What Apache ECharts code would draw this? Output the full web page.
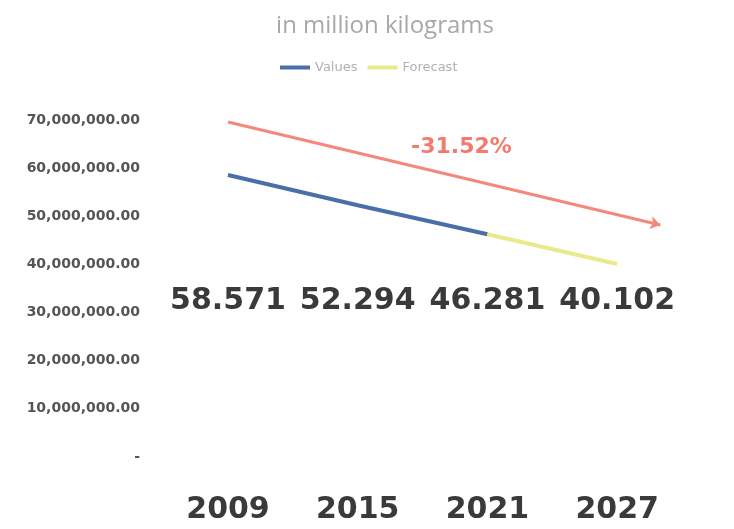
<!DOCTYPE html>
<html><head><meta charset="utf-8">
<script src="https://cdn.jsdelivr.net/npm/echarts@6/dist/echarts.min.js"></script>
<style>html,body{margin:0;padding:0;background:#fff}#c{width:734px;height:529px}</style>
</head><body><div id="c"></div>
<script>
var years = [2009, 2015, 2021, 2027];
var values = [58571000, 52294000, 46281000, null];
var forecast = [null, null, 46281000, 40102000];
var trendStart = [2009, 69600000];
var trendEnd = [2029, 48200000];
var trendLabel = '-31.52%';
var trendLabelAt = [2019.8, 64300000];

function pairs(arr) {
  var out = [];
  for (var i = 0; i < years.length; i++) if (arr[i] != null) out.push([years[i], arr[i]]);
  return out;
}
var labelValues = years.map(function (y, i) {
  var v = values[i] != null ? values[i] : forecast[i];
  return (v / 1e6).toFixed(3);
});
function fmtY(v) {
  if (v === 0) return '-';
  return v.toLocaleString('en-US', {minimumFractionDigits: 2, maximumFractionDigits: 2});
}

var chart = echarts.init(document.getElementById('c'), null, {renderer: 'canvas'});
chart.setOption({
  backgroundColor: '#ffffff',
  animation: false,
  title: {
    text: 'in million kilograms',
    left: 380, top: 9, textAlign: 'center',
    textStyle: {color: '#a8a8a8', fontSize: 24, fontWeight: 'normal', fontFamily: 'Open Sans'}
  },
  legend: {
    data: ['Values', 'Forecast'],
    left: 275, top: 56,
    itemWidth: 30, itemHeight: 4, itemGap: 10,
    icon: 'rect',
    textStyle: {color: '#b0b0b0', fontSize: 13, fontFamily: 'DejaVu Sans'}
  },
  grid: {left: 228, right: 52, top: 120, bottom: 72},
  xAxis: [{
    type: 'value', min: 2009, max: 2030,
    axisLine: {show: false}, axisTick: {show: false}, splitLine: {show: false},
    axisLabel: {
      customValues: years, margin: 38,
      color: '#3a3a3a', fontSize: 30, fontWeight: 'bold', fontFamily: 'DejaVu Sans',
      formatter: function (v) { return String(v); }
    }
  }, {
    type: 'value', min: 2009, max: 2030, position: 'bottom', offset: -180,
    axisLine: {show: false}, axisTick: {show: false}, splitLine: {show: false},
    axisLabel: {
      customValues: years, margin: 9,
      color: '#3a3a3a', fontSize: 30, fontWeight: 'bold', fontFamily: 'DejaVu Sans',
      formatter: function (v) { var i = years.indexOf(v); return i >= 0 ? labelValues[i] : ''; }
    }
  }],
  yAxis: {
    type: 'value', min: 0, max: 70000000, interval: 10000000,
    axisLine: {show: false}, axisTick: {show: false}, splitLine: {show: false},
    axisLabel: {
      margin: 88, color: '#555', fontSize: 14, fontWeight: 'bold', fontFamily: 'DejaVu Sans',
      formatter: fmtY
    }
  },
  series: [{
    name: 'Values', type: 'line', data: pairs(values), showSymbol: false,
    lineStyle: {color: '#4a6ea8', width: 4}, itemStyle: {color: '#4a6ea8'}
  }, {
    name: 'Forecast', type: 'line', data: pairs(forecast), showSymbol: false,
    lineStyle: {color: '#eaea8c', width: 4}, itemStyle: {color: '#eaea8c'}
  }, {
    name: 'trend', type: 'line', data: [],
    markLine: {
      silent: true, symbol: ['none', 'arrow'], symbolSize: 10,
      lineStyle: {color: '#f5877c', width: 3, type: 'solid'},
      label: {show: false},
      data: [[{coord: trendStart}, {coord: trendEnd}]]
    },
    markPoint: {
      silent: true, symbol: 'circle', symbolSize: 0,
      label: {show: true, position: 'inside', formatter: trendLabel, color: '#f57a6e', fontSize: 22, fontWeight: 'bold', fontFamily: 'DejaVu Sans'},
      data: [{coord: trendLabelAt}]
    }
  }]
});
</script></body></html>
